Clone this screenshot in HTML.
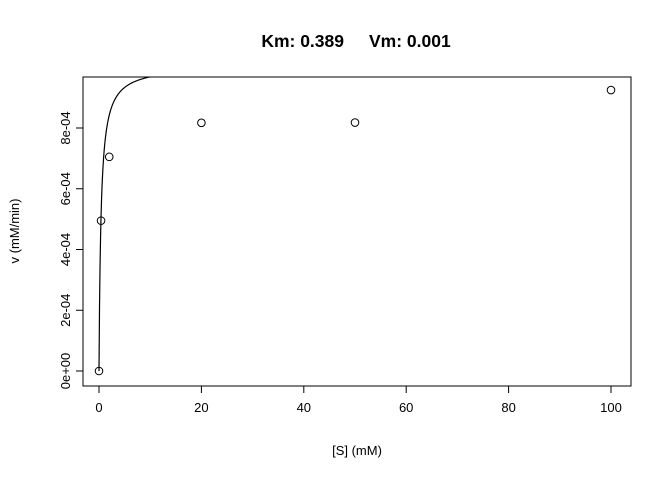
<!DOCTYPE html>
<html><head><meta charset="utf-8"><style>
body{margin:0;background:#fff;}
svg text{font-family:"Liberation Sans",sans-serif;fill:#000;}
</style></head><body>
<svg id="chart" width="672" height="480" xmlns="http://www.w3.org/2000/svg">
<defs><clipPath id="clip"><rect x="83" y="77" width="548" height="309"/></clipPath></defs>
<g>
<text x="344" y="47" text-anchor="end" font-size="17.5" font-weight="bold">Km: 0.389</text>
<text x="369" y="47" text-anchor="start" font-size="17.5" font-weight="bold">Vm: 0.001</text>
</g>
<rect x="83" y="77" width="548" height="309" fill="none" stroke="#000"/>
<g id="xaxis"></g>
<g id="yaxis"></g>
<g id="marks" clip-path="url(#clip)"></g>
<g id="pts"></g>
<text x="357" y="455" text-anchor="middle" font-size="13">[S] (mM)</text>
<text transform="translate(19,231) rotate(-90)" text-anchor="middle" font-size="13">v (mM/min)</text>
</svg>
<script>
const substrate=[0,0.4,2,20,50,100];
const velocity=[0,4.95e-4,7.05e-4,8.17e-4,8.18e-4,9.25e-4];
const xTicks=[0,20,40,60,80,100];
const yTicks=[0,2e-4,4e-4,6e-4,8e-4];
const yTickLabels=["0e+00","2e-04","4e-04","6e-04","8e-04"];
const Km=0.389, Vm=0.001006;
const NS="http://www.w3.org/2000/svg";
const sx=v=>99+v*5.12;
const sy=v=>371-v*(243/8e-4);
function mk(t,a,p){const e=document.createElementNS(NS,t);for(const k in a)e.setAttribute(k,a[k]);p.appendChild(e);return e;}
const xa=document.getElementById('xaxis'),ya=document.getElementById('yaxis');
mk('line',{x1:sx(0),x2:sx(100),y1:386,y2:386,stroke:'#000'},xa);
xTicks.forEach(t=>{mk('line',{x1:sx(t),x2:sx(t),y1:386,y2:393,stroke:'#000'},xa);
const l=mk('text',{x:sx(t),y:412,'text-anchor':'middle','font-size':13},xa);l.textContent=t;

});
mk('line',{x1:83,x2:83,y1:sy(0),y2:sy(8e-4),stroke:'#000'},ya);
yTicks.forEach((t,i)=>{mk('line',{x1:76,x2:83,y1:sy(t),y2:sy(t),stroke:'#000'},ya);
const l=mk('text',{transform:`translate(70,${sy(t)}) rotate(-90)`,'text-anchor':'middle','font-size':13},ya);l.textContent=yTickLabels[i];

});
let d='';for(let i=0;i<=1000;i++){const s=i*0.1;d+=(i?'L':'M')+sx(s).toFixed(2)+','+sy(Vm*s/(Km+s)).toFixed(2);}
const c=mk('path',{d:d,fill:'none',stroke:'#000','stroke-width':1.2},document.getElementById('marks'));


substrate.forEach((s,i)=>{const p=mk('circle',{cx:sx(s),cy:sy(velocity[i]),r:3.8,fill:'none',stroke:'#000'},document.getElementById('pts'));

});
</script>
</body></html>
